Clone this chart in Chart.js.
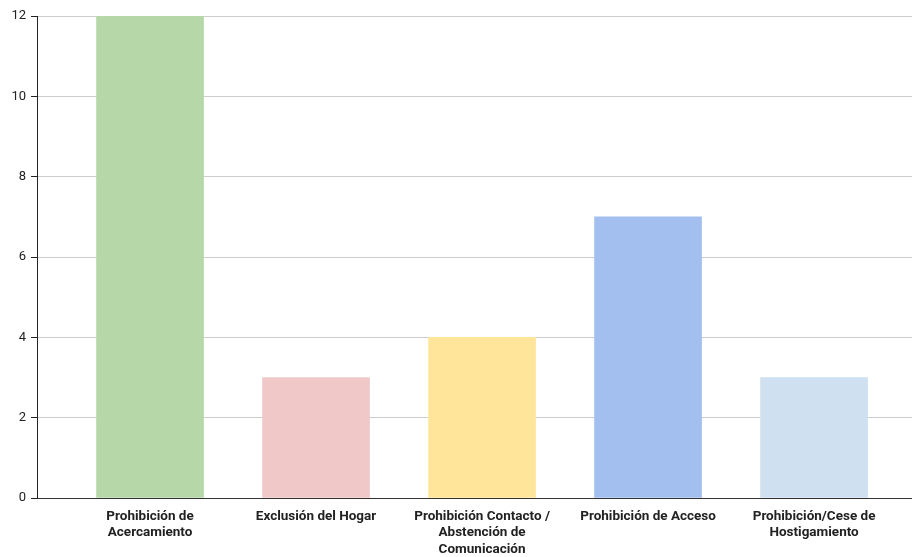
<!DOCTYPE html>
<html>
<head>
<meta charset="utf-8">
<script src="https://cdn.jsdelivr.net/npm/chart.js@4"></script>
<style>
  html, body { margin: 0; padding: 0; background: #fff; }
  #grafica { display: block; }
</style>
</head>
<body>
<canvas id="grafica" width="912" height="557"></canvas>
<script>
// Datos
const categorias = [
  ['Prohibición de', 'Acercamiento'],
  ['Exclusión del Hogar'],
  ['Prohibición Contacto /', 'Abstención de', 'Comunicación'],
  ['Prohibición de Acceso'],
  ['Prohibición/Cese de', 'Hostigamiento']
];
const valores = [12, 3, 4, 7, 3];
const colores = ['#b6d7a8', '#f0c8c8', '#ffe599', '#a2bfef', '#cfe0f0'];
const ticksY = [0, 2, 4, 6, 8, 10, 12];

const puntos = valores.map((v, i) => ({ x: i, y: v }));

new Chart(document.getElementById('grafica').getContext('2d'), {
  type: 'bar',
  data: {
    datasets: [{
      data: puntos,
      backgroundColor: colores,
      borderWidth: 0,
      barThickness: 107
    }]
  },
  options: {
    responsive: false,
    animation: false,
    layout: { padding: { top: 16, right: 0, left: 0, bottom: 0 } },
    plugins: { legend: { display: false }, tooltip: { enabled: false } },
    scales: {
      x: {
        type: 'linear',
        offset: false,
        min: -0.681,
        max: 4.59,
        afterBuildTicks: s => { s.ticks = categorias.map((c, i) => ({ value: i })); },
        afterFit: s => { s.height = 59; },
        grid: { display: false, offset: false },
        border: { display: true, color: '#333', width: 1 },
        ticks: {
          autoSkip: false,
          minRotation: 0,
          maxRotation: 0,
          padding: 3,
          color: '#222',
          font: { family: 'Roboto', size: 13.5, weight: 'bold', lineHeight: 1.19 },
          callback: v => categorias[v]
        }
      },
      y: {
        min: 0,
        max: 12,
        afterBuildTicks: s => { s.ticks = ticksY.map(v => ({ value: v })); },
        afterFit: s => { s.width = 37; },
        grid: {
          color: ctx => (ctx.tick && ctx.tick.value === 0) ? '#333' : '#cccccc',
          tickColor: '#222',
          tickLength: 6
        },
        border: { display: true, color: '#222', width: 1 },
        ticks: {
          padding: 5,
          color: '#222',
          font: { family: 'Roboto', size: 13 }
        }
      }
    }
  }
});
</script>
</body>
</html>
